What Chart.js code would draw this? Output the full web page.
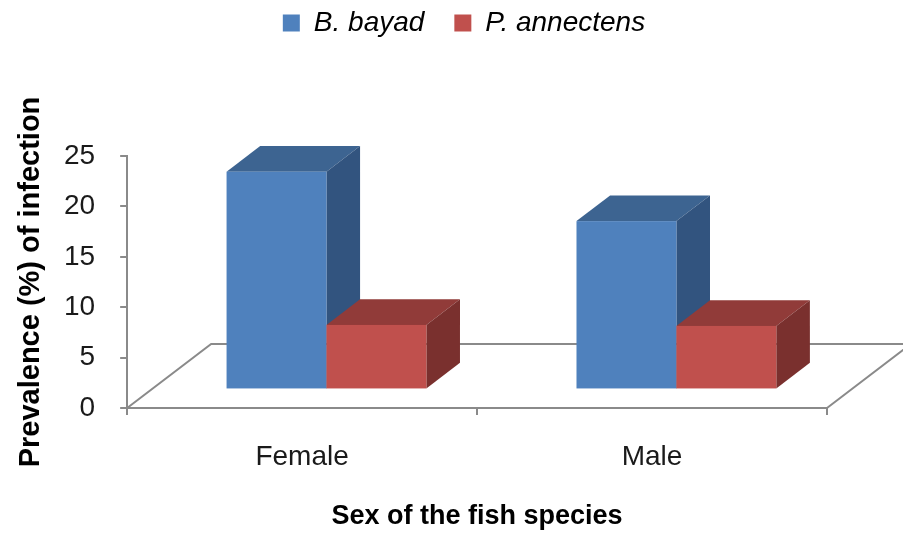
<!DOCTYPE html>
<html>
<head>
<meta charset="utf-8">
<script src="https://cdn.jsdelivr.net/npm/chart.js@4"></script>
<style>
  html, body { margin: 0; padding: 0; background: #fff; }
  #wrap { width: 903px; height: 533px; }
</style>
</head>
<body>
<div id="wrap"><canvas id="myChart" width="903" height="533"></canvas></div>
<script>
// data
let categories = ["Female", "Male"];
let seriesNames = ["B. bayad", "P. annectens"];
let bBayad = [21.6, 16.7];
let pAnnectens = [6.4, 6.3];
let yTicks = [0, 5, 10, 15, 20, 25];

// face colours: front, top, side
let faceColors = [
    ["#4F81BD", "#3D6491", "#32547F"],
    ["#C0504D", "#913B39", "#7A302E"]
];

let axisGrey = "#8a8a8a";

// draws the floor and the 3d boxes from the bar elements chart.js computed
const bars3d = {
    id: 'bars3d',
    beforeInit(chart) {
        const fit = chart.legend.fit;
        chart.legend.fit = function () {
            fit.bind(chart.legend)();
            this.height += 109;
        };
    },
    beforeDatasetsDraw(chart) {
        const ctx = chart.ctx;
        const area = chart.chartArea;
        const y0 = chart.scales.y.getPixelForValue(0);
        // floor depth vector
        const fdx = 84, fdy = -64;
        // bar front plane sits part way into the floor
        const sx = fdx * 0.29, sy = fdy * 0.29;
        const bdx = fdx * 0.40, bdy = fdy * 0.40;

        ctx.save();
        ctx.strokeStyle = axisGrey;
        ctx.lineWidth = 2;
        ctx.beginPath();
        ctx.moveTo(area.left, y0);
        ctx.lineTo(area.left + fdx, y0 + fdy);
        ctx.lineTo(area.right + fdx, y0 + fdy);
        ctx.lineTo(area.right, y0);
        ctx.stroke();

        chart.data.datasets.forEach((ds, di) => {
            const meta = chart.getDatasetMeta(di);
            if (meta.hidden) return;
            const cols = faceColors[di];
            meta.data.forEach(bar => {
                const l = bar.x - bar.width / 2 + sx;
                const r = bar.x + bar.width / 2 + sx;
                const t = bar.y + sy;
                const b = bar.base + sy;
                // top
                ctx.fillStyle = cols[1];
                ctx.beginPath();
                ctx.moveTo(l, t);
                ctx.lineTo(l + bdx, t + bdy);
                ctx.lineTo(r + bdx, t + bdy);
                ctx.lineTo(r, t);
                ctx.closePath();
                ctx.fill();
                // side
                ctx.fillStyle = cols[2];
                ctx.beginPath();
                ctx.moveTo(r, t);
                ctx.lineTo(r + bdx, t + bdy);
                ctx.lineTo(r + bdx, b + bdy);
                ctx.lineTo(r, b);
                ctx.closePath();
                ctx.fill();
                // front
                ctx.fillStyle = cols[0];
                ctx.fillRect(l, t, r - l, b - t);
            });
        });
        ctx.restore();
        return false;
    }
};

let ctx = document.getElementById('myChart').getContext('2d');
let chart = new Chart(ctx, {
    type: 'bar',
    data: {
        labels: categories,
        datasets: [
            { label: seriesNames[0], data: bBayad, backgroundColor: faceColors[0][0] },
            { label: seriesNames[1], data: pAnnectens, backgroundColor: faceColors[1][0] }
        ]
    },
    options: {
        responsive: false,
        animation: false,
        layout: { padding: { left: 12, right: -13, top: -21, bottom: 0 } },
        datasets: { bar: { categoryPercentage: 0.571, barPercentage: 1.0 } },
        plugins: {
            tooltip: { enabled: false },
            legend: {
                position: 'top',
                labels: {
                    boxWidth: 17,
                    boxHeight: 17,
                    padding: 30,
                    color: '#000',
                    font: { family: 'Liberation Sans', size: 28, style: 'italic' }
                }
            }
        },
        scales: {
            x: {
                grid: { display: true, drawOnChartArea: false, offset: true, tickLength: 7, color: axisGrey, lineWidth: 2 },
                border: { display: true, color: axisGrey, width: 2 },
                ticks: { color: '#1a1a1a', padding: 28, font: { family: 'Liberation Sans', size: 28, lineHeight: 1 } },
                title: {
                    display: true,
                    text: 'Sex of the fish species',
                    color: '#000',
                    padding: { top: 4, bottom: 3 },
                    font: { family: 'Liberation Sans', size: 27, weight: 'bold', lineHeight: 1 }
                }
            },
            y: {
                min: 0,
                max: 25,
                afterBuildTicks(scale) { scale.ticks = yTicks.map(v => ({ value: v })); },
                grid: { display: true, drawOnChartArea: false, tickLength: 7, color: axisGrey, lineWidth: 2 },
                border: { display: true, color: axisGrey, width: 2 },
                ticks: { color: '#1a1a1a', padding: 25, font: { family: 'Liberation Sans', size: 28 } },
                title: {
                    display: true,
                    text: 'Prevalence (%) of infection',
                    color: '#000',
                    padding: { top: 4, bottom: -6 },
                    font: { family: 'Liberation Sans', size: 29, weight: 'bold', lineHeight: 1 }
                }
            },
            y2: {
                position: 'right',
                display: true,
                afterFit(scale) { scale.width = 89; },
                grid: { display: false },
                border: { display: false },
                ticks: { display: false }
            }
        }
    },
    plugins: [bars3d]
});
</script>
</body>
</html>
